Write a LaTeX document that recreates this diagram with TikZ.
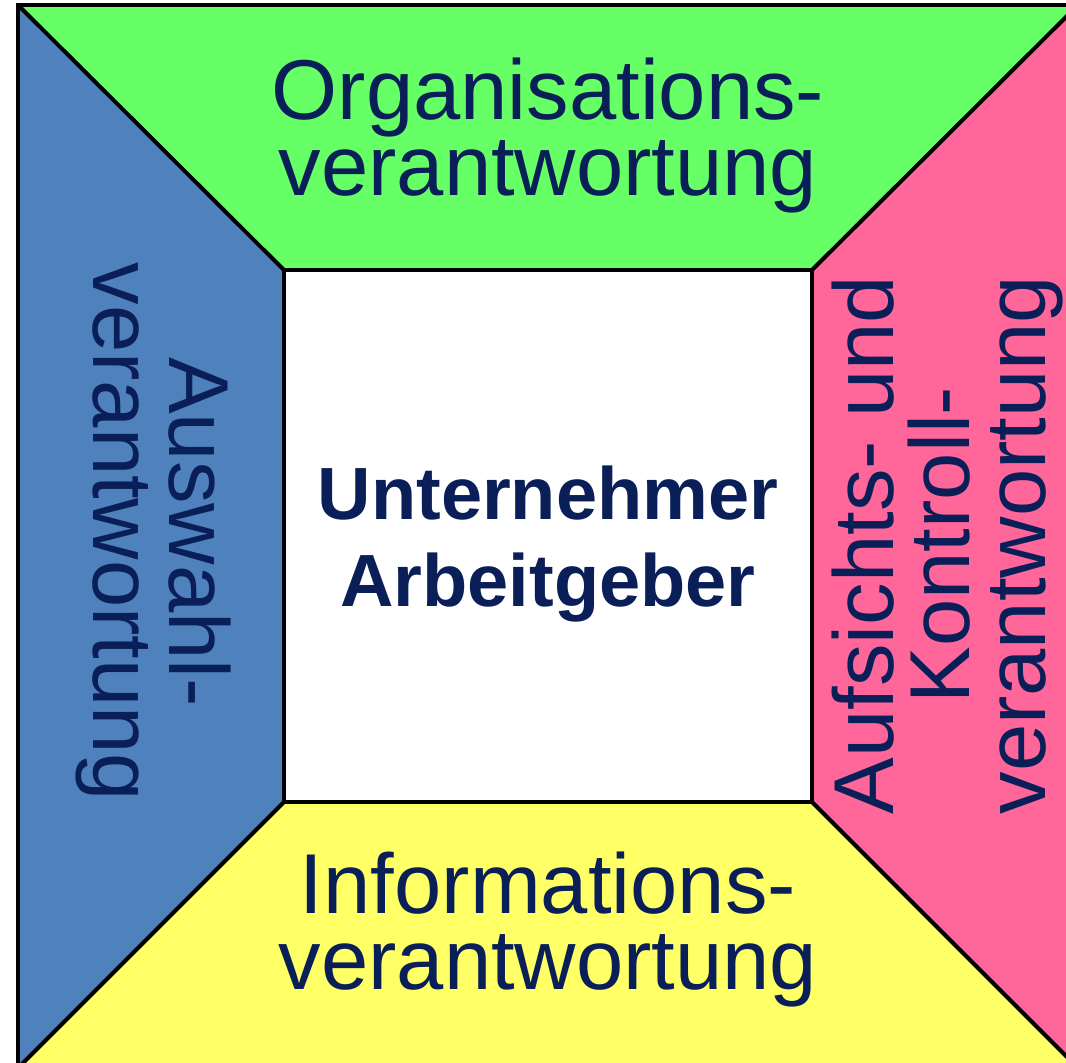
\documentclass[tikz,border=0pt]{standalone}
\usepackage{fontspec}
\setmainfont{Liberation Sans}
\usepackage{xcolor}
\definecolor{orgagreen}{RGB}{102,255,102}
\definecolor{auswahlblue}{RGB}{79,129,189}
\definecolor{aufsichtpink}{RGB}{255,102,153}
\definecolor{infoyellow}{RGB}{255,255,102}
\definecolor{labelnavy}{RGB}{10,31,87}

\begin{document}
\begin{tikzpicture}[x=1pt, y=-1pt,
  every node/.style={text=labelnavy, align=center, inner sep=0pt},
  dutylabel/.style={font=\fontsize{85}{76}\selectfont},
  bosslabel/.style={font=\bfseries\fontsize{74}{87}\selectfont},
  edge/.style={line width=4pt}]
\useasboundingbox (0,0) rectangle (1066,1063);

% Outer frame corners
\coordinate (otl) at (18,5);
\coordinate (otr) at (1078,5);
\coordinate (obr) at (1078,1068);
\coordinate (obl) at (18,1068);

% Inner box corners
\coordinate (itl) at (284,270);
\coordinate (itr) at (812,270);
\coordinate (ibr) at (812,802);
\coordinate (ibl) at (284,802);

% Four fields round the box
\fill[orgagreen] (otl) -- (otr) -- (itr) -- (itl) -- cycle;
\fill[aufsichtpink] (otr) -- (obr) -- (ibr) -- (itr) -- cycle;
\fill[infoyellow] (obl) -- (obr) -- (ibr) -- (ibl) -- cycle;
\fill[auswahlblue] (otl) -- (obl) -- (ibl) -- (itl) -- cycle;

% Inner box
\draw[edge, fill=white] (itl) rectangle (ibr);

% Frame and diagonals
\draw[edge] (obl) -- (otl) -- (otr) -- (obr) -- cycle;
\draw[edge] (otl) -- (itl);
\draw[edge] (otr) -- (itr);
\draw[edge] (obr) -- (ibr);
\draw[edge] (obl) -- (ibl);

% Labels
\node[bosslabel] (boss) at (548,544) {Unternehmer\\Arbeitgeber};
\node[dutylabel] (orga) at (548,135.5) {Organisations-\\verantwortung};
\node[dutylabel] (info) at (548,930) {Informations-\\verantwortung};
\node[dutylabel, rotate=-90] (auswahl) at (153.5,532) {Auswahl-\\verantwortung};
\node[dutylabel, rotate=90] (aufsicht) at (948,545) {Aufsichts- und\\Kontroll-\\verantwortung};

\end{tikzpicture}
\end{document}
